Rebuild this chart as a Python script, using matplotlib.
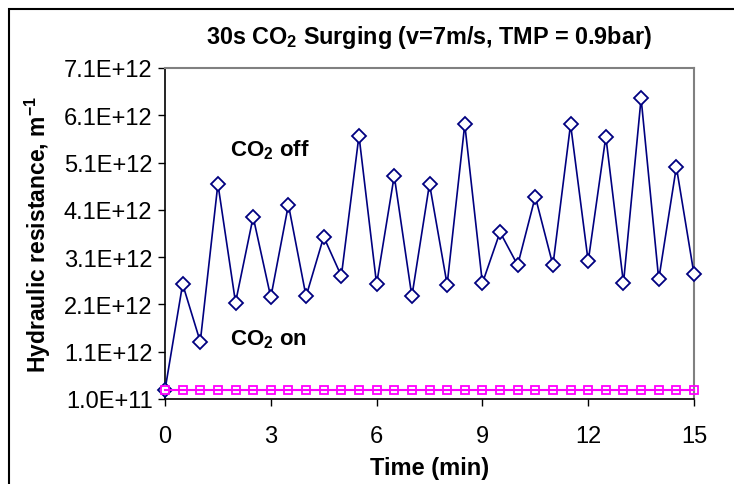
import matplotlib.pyplot as plt
import numpy as np
from matplotlib.patches import Rectangle

plt.rcParams['font.family'] = ['Liberation Sans', 'DejaVu Sans']
plt.rcParams['mathtext.fontset'] = 'custom'
plt.rcParams['mathtext.rm'] = 'Liberation Sans'
plt.rcParams['mathtext.bf'] = 'Liberation Sans:bold'

# time in minutes, one reading every 30 s
time_min = np.arange(0, 15.01, 0.5)
co2_off = [2.9e11, 2.53e12, 1.31e12, 4.65e12, 2.14e12, 3.95e12, 2.25e12, 4.21e12,
           2.27e12, 3.53e12, 2.70e12, 5.67e12, 2.53e12, 4.82e12, 2.27e12, 4.65e12,
           2.52e12, 5.91e12, 2.55e12, 3.63e12, 2.93e12, 4.38e12, 2.93e12, 5.91e12,
           3.01e12, 5.65e12, 2.55e12, 6.46e12, 2.63e12, 5.01e12, 2.74e12]
co2_on = [2.9e11] * len(time_min)
y_ticks = [1.0e11, 1.1e12, 2.1e12, 3.1e12, 4.1e12, 5.1e12, 6.1e12, 7.1e12]
x_ticks = [0, 3, 6, 9, 12, 15]

fig = plt.figure(figsize=(7.34, 4.85), dpi=100)
ax = fig.add_axes([165/734, 1-400/485, (694-165)/734, (400-69)/485])

# outer frame of the original figure (only top/left visible)
fig.patches.append(Rectangle((9/734, -0.1), 1.2, 1.1 - 10/485,
                             transform=fig.transFigure, fill=False,
                             edgecolor='black', linewidth=1.5))

ax.plot(time_min, co2_off, color='#000080', lw=1.2, marker='D', markersize=6.8,
        markerfacecolor='white', markeredgecolor='#000080', markeredgewidth=1.3,
        clip_on=False, zorder=3)
ax.plot(time_min, co2_on, color='#FF00FF', lw=1.5, marker='s', markersize=5.5,
        markerfacecolor='none', markeredgecolor='#FF00FF', markeredgewidth=1.3,
        clip_on=False, zorder=4)

ax.set_xlim(0, 15)
ax.set_ylim(1.0e11, 7.1e12)
ax.set_xticks(x_ticks)
ax.set_yticks(y_ticks)
ax.set_yticklabels(['{:.1E}'.format(v) for v in y_ticks])
ax.tick_params(direction='out', length=5, width=1, labelsize=17, pad=4)
ax.tick_params(axis='x', pad=14)

for s in ['top', 'right']:
    ax.spines[s].set_color('#808080')
    ax.spines[s].set_linewidth(1.5)
for s in ['left', 'bottom']:
    ax.spines[s].set_color('black')
    ax.spines[s].set_linewidth(1.2)

ax.text(1.85, 5.38e12, r'CO$_\mathbf{2}$ off', fontsize=16, fontweight='bold',
        va='center', ha='left')
ax.text(1.85, 1.38e12, r'CO$_\mathbf{2}$ on', fontsize=16, fontweight='bold',
        va='center', ha='left')

fig.text(429/734, 1-38/485, r'30s CO$_\mathbf{2}$ Surging (v=7m/s, TMP = 0.9bar)',
         fontsize=16.8, fontweight='bold', ha='center', va='center')
ax.set_xlabel('Time (min)', fontsize=17, fontweight='bold', labelpad=6)
ax.set_ylabel(r'Hydraulic resistance, m$^\mathbf{-1}$', fontsize=16.5,
              fontweight='bold', labelpad=8)

fig.savefig('out.png', dpi=100)
